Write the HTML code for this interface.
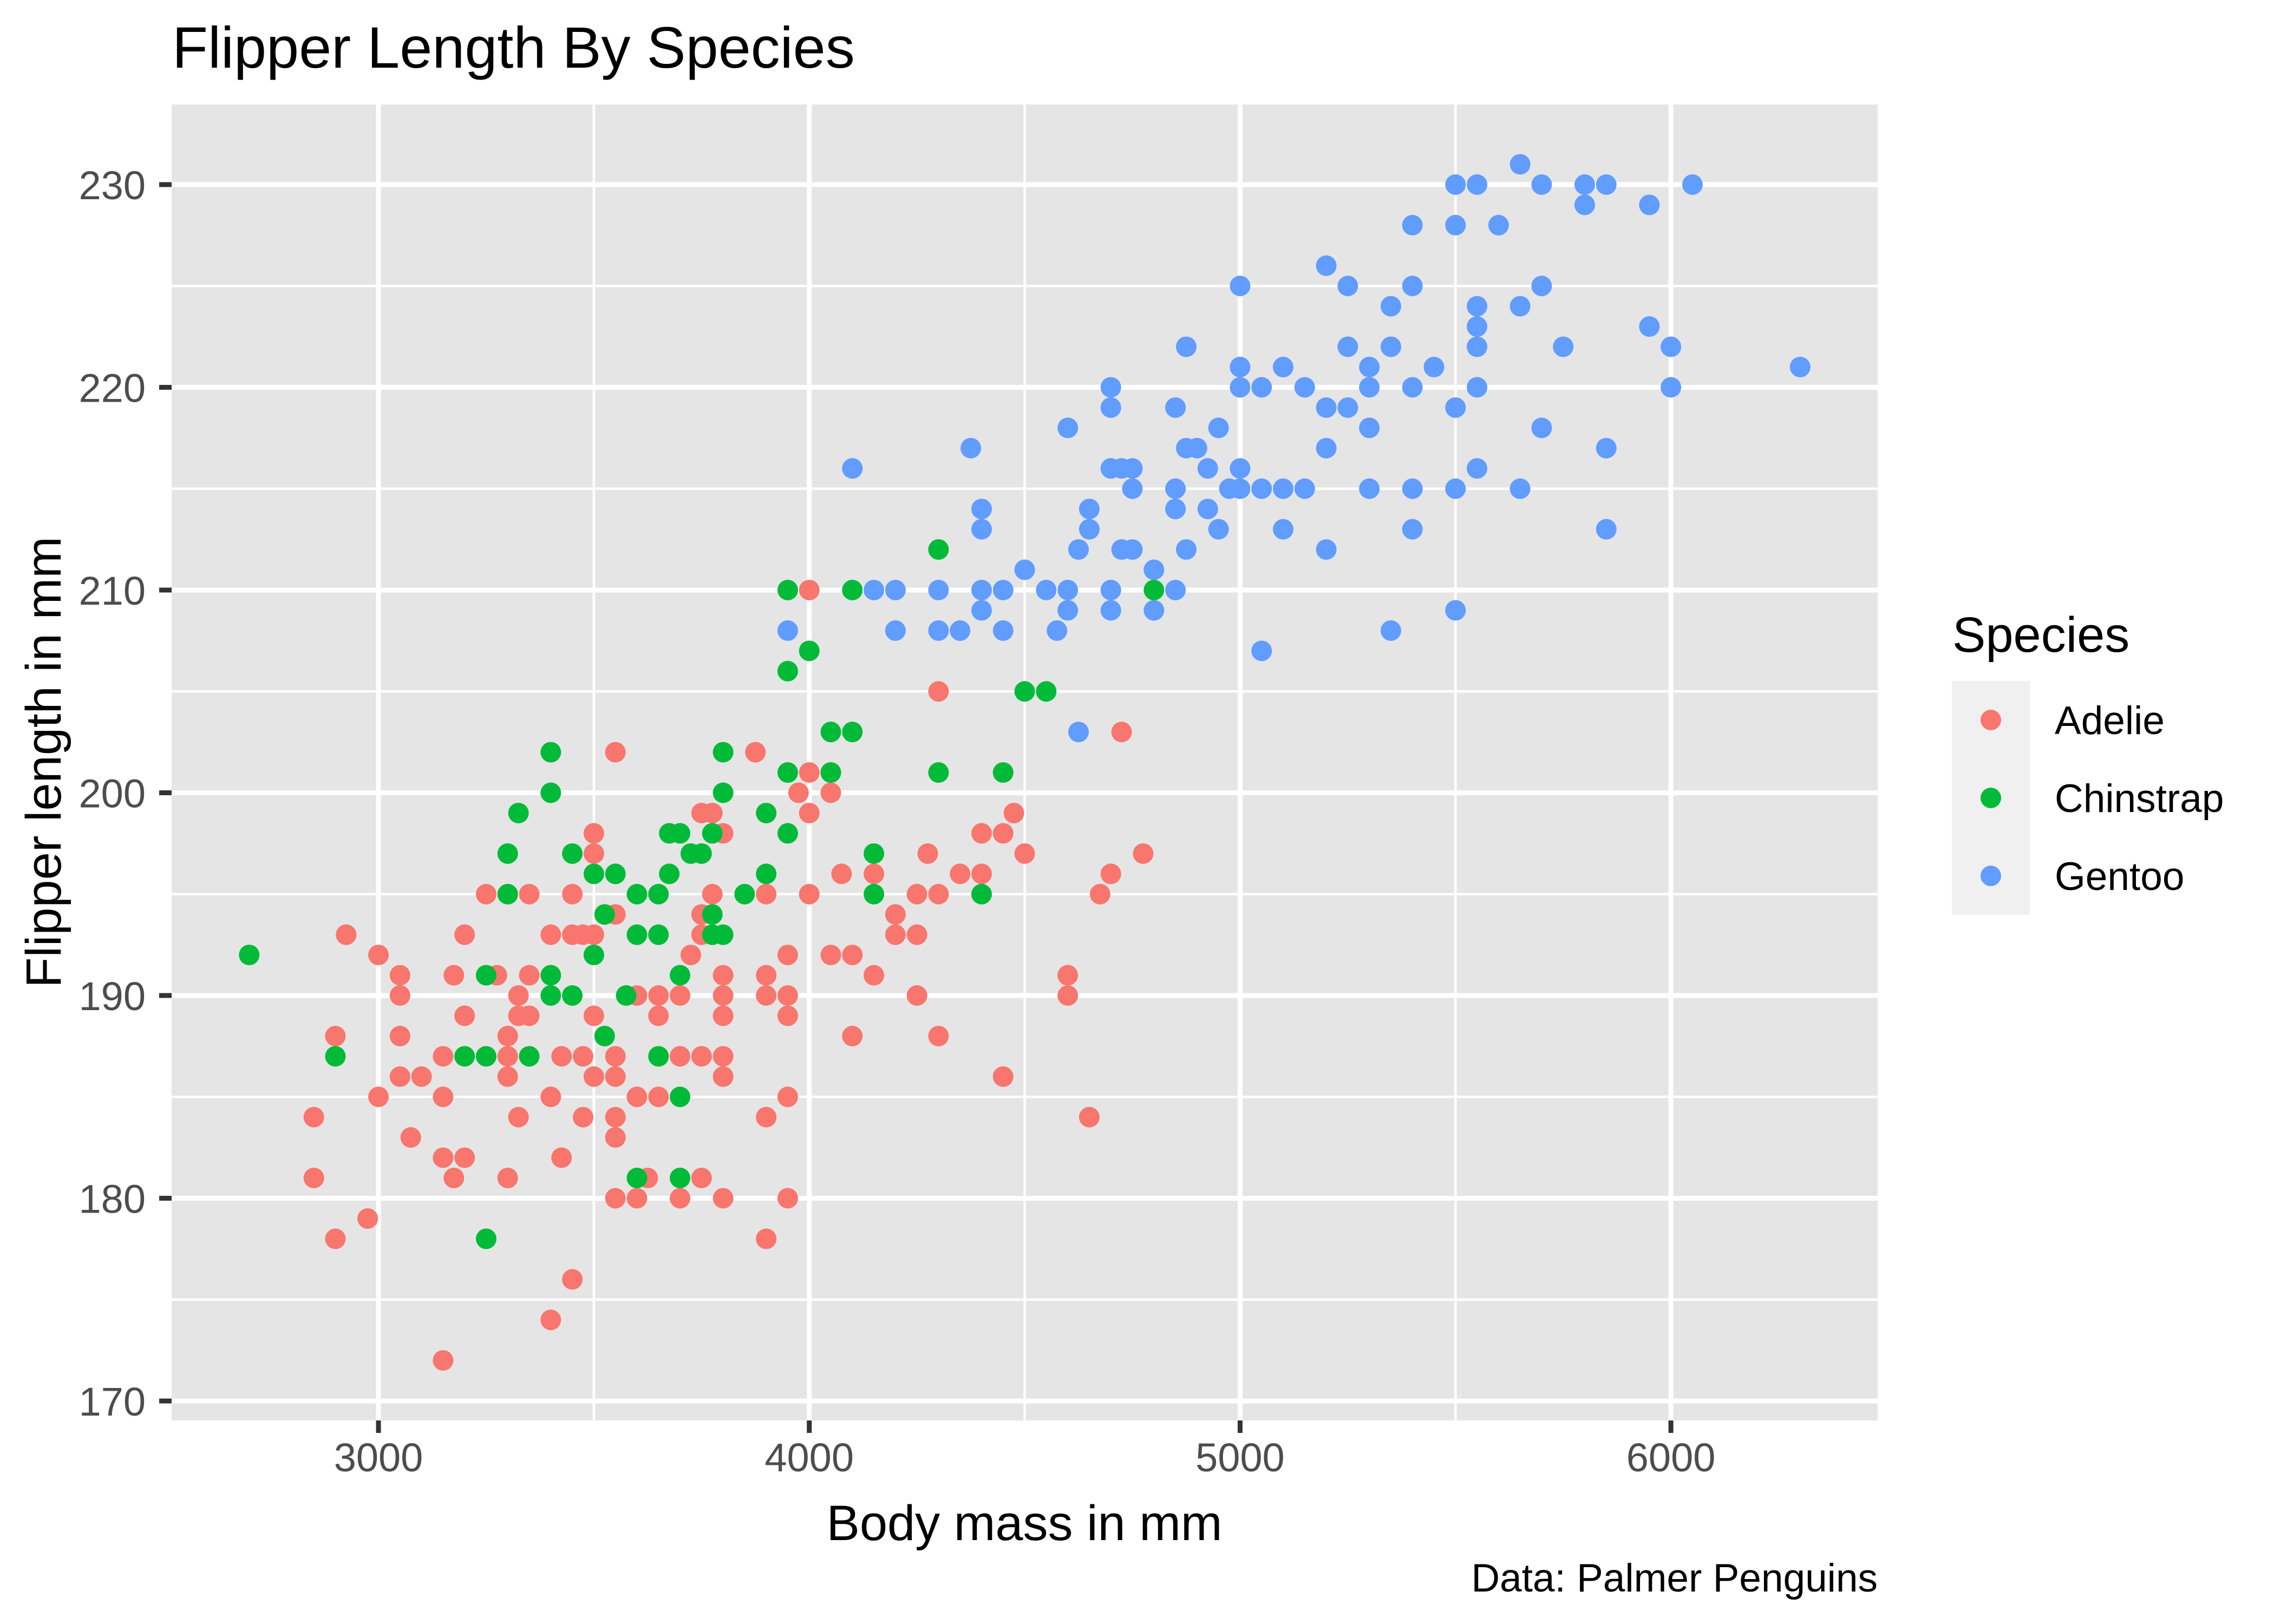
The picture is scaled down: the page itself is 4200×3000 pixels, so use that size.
<!DOCTYPE html>
<html><head><meta charset="utf-8"><style>
html,body{margin:0;padding:0;background:#fff;}
svg{display:block;font-family:"Liberation Sans",Arial,sans-serif;}
</style></head><body>
<svg id="s" width="4200" height="3000" viewBox="0 0 4200 3000" xmlns="http://www.w3.org/2000/svg">
<rect width="4200" height="3000" fill="#fff"/>
<rect x="317" y="193" width="3151" height="2431" fill="#e5e5e5"/>
<g id="grid"></g>
<g id="pts"></g>
<text x="318" y="125" font-size="108" fill="#000">Flipper Length By Species</text>
<g id="ticks" font-size="74" fill="#4d4d4d"></g>
<text x="1892" y="2845" font-size="92" text-anchor="middle" fill="#000">Body mass in mm</text>
<text transform="translate(112,1408) rotate(-90)" font-size="92" text-anchor="middle" fill="#000">Flipper length in mm</text>
<text x="3468" y="2940" font-size="73" text-anchor="end" fill="#000">Data: Palmer Penguins</text>
<text x="3606" y="1204" font-size="92" fill="#000">Species</text>
<rect x="3605" y="1258" width="144" height="432" fill="#f0f0f0"/>
<circle cx="3677" cy="1330" r="19" fill="#F8766D"/>
<circle cx="3677" cy="1474" r="19" fill="#00BA38"/>
<circle cx="3677" cy="1618" r="19" fill="#619CFF"/>
<text x="3795" y="1356" font-size="73" fill="#000">Adelie</text>
<text x="3795" y="1500" font-size="73" fill="#000">Chinstrap</text>
<text x="3795" y="1644" font-size="73" fill="#000">Gentoo</text>
</svg>
<script>
var NS="http://www.w3.org/2000/svg";
function X(m){return 699+(m-3000)*0.7957;}
function Y(f){return 341+(230-f)*37.45;}
function el(p,t,a){var e=document.createElementNS(NS,t);for(var k in a)e.setAttribute(k,a[k]);p.appendChild(e);return e;}
var g=document.getElementById('grid'),tk=document.getElementById('ticks');
[3500,4500,5500].forEach(function(m){el(g,'line',{x1:X(m),x2:X(m),y1:193,y2:2624,stroke:'#fff','stroke-width':4.5});});
[175,185,195,205,215,225].forEach(function(f){el(g,'line',{x1:317,x2:3468,y1:Y(f),y2:Y(f),stroke:'#fff','stroke-width':4.5});});
[3000,4000,5000,6000].forEach(function(m){el(g,'line',{x1:X(m),x2:X(m),y1:193,y2:2624,stroke:'#fff','stroke-width':9});
 el(tk,'line',{x1:X(m),x2:X(m),y1:2624,y2:2647,stroke:'#333','stroke-width':9});
 var t=el(tk,'text',{x:X(m),y:2718,'text-anchor':'middle'});t.textContent=m;});
[170,180,190,200,210,220,230].forEach(function(f){el(g,'line',{x1:317,x2:3468,y1:Y(f),y2:Y(f),stroke:'#fff','stroke-width':9});
 el(tk,'line',{x1:294,x2:317,y1:Y(f),y2:Y(f),stroke:'#333','stroke-width':9});
 var t=el(tk,'text',{x:269,y:Y(f)+27,'text-anchor':'end'});t.textContent=f;});
var A=[[2850,184],[2850,181],[2900,188],[2900,178],[2925,193],[2975,179],[3000,192],[3000,185],[3050,191],[3050,190],[3050,188],[3050,186],[3075,183],[3100,186],[3150,187],[3150,185],[3150,182],[3150,172],[3175,191],[3175,181],[3200,193],[3200,189],[3200,182],[3250,195],[3275,191],[3300,195],[3300,188],[3300,187],[3300,186],[3300,181],[3325,190],[3325,189],[3325,184],[3350,195],[3350,191],[3350,189],[3400,193],[3400,185],[3400,174],[3425,187],[3425,182],[3450,195],[3450,193],[3450,176],[3475,193],[3475,187],[3475,184],[3500,198],[3500,197],[3500,193],[3500,189],[3500,186],[3550,202],[3550,194],[3550,187],[3550,186],[3550,184],[3550,183],[3550,180],[3600,190],[3600,185],[3600,180],[3625,181],[3650,190],[3650,189],[3650,185],[3700,190],[3700,187],[3700,180],[3725,192],[3750,199],[3750,194],[3750,193],[3750,187],[3750,181],[3775,199],[3775,195],[3800,198],[3800,191],[3800,190],[3800,189],[3800,187],[3800,186],[3800,180],[3875,202],[3900,195],[3900,191],[3900,190],[3900,184],[3900,178],[3950,192],[3950,190],[3950,189],[3950,185],[3950,180],[3975,200],[4000,210],[4000,201],[4000,199],[4000,195],[4050,201],[4050,200],[4050,192],[4075,196],[4100,192],[4100,188],[4150,196],[4150,191],[4200,194],[4200,193],[4250,195],[4250,193],[4250,190],[4275,197],[4300,205],[4300,195],[4300,188],[4350,196],[4400,198],[4400,196],[4450,198],[4450,186],[4475,199],[4500,197],[4600,191],[4600,190],[4650,184],[4675,195],[4700,196],[4725,203],[4775,197]];
var C=[[2700,192],[2900,187],[3250,191],[3250,187],[3250,178],[3300,197],[3300,195],[3325,199],[3350,187],[3200,187],[3400,202],[3400,200],[3400,191],[3400,190],[3450,197],[3450,190],[3500,196],[3500,192],[3525,194],[3525,188],[3550,196],[3575,190],[3600,195],[3600,193],[3600,181],[3650,195],[3650,193],[3650,187],[3675,198],[3675,196],[3700,198],[3700,191],[3700,185],[3700,181],[3725,197],[3750,197],[3775,198],[3775,194],[3775,193],[3800,202],[3800,200],[3800,193],[3850,195],[3900,199],[3900,196],[3950,210],[3950,206],[3950,201],[3950,198],[4000,207],[4050,203],[4050,201],[4100,210],[4100,203],[4150,197],[4150,195],[4300,212],[4300,201],[4400,195],[4450,201],[4500,205],[4550,205],[4800,210]];
var G=[[3950,208],[4100,216],[4150,210],[4200,210],[4200,208],[4300,210],[4300,208],[4350,208],[4375,217],[4400,214],[4400,213],[4400,210],[4400,209],[4450,210],[4450,208],[4500,211],[4550,210],[4575,208],[4600,218],[4600,210],[4600,209],[4625,212],[4625,203],[4650,214],[4650,213],[4700,220],[4700,219],[4700,216],[4700,210],[4700,209],[4725,216],[4725,212],[4750,216],[4750,215],[4750,212],[4800,211],[4800,209],[4850,219],[4850,215],[4850,214],[4850,210],[4875,222],[4875,217],[4875,212],[4900,217],[4925,216],[4925,214],[4950,218],[4950,213],[4975,215],[5000,225],[5000,221],[5000,220],[5000,216],[5000,215],[5050,220],[5050,215],[5050,207],[5100,221],[5100,215],[5100,213],[5150,220],[5150,215],[5200,226],[5200,219],[5200,217],[5200,212],[5250,225],[5250,222],[5250,219],[5300,221],[5300,220],[5300,218],[5300,215],[5350,224],[5350,222],[5350,208],[5400,228],[5400,225],[5400,220],[5400,215],[5400,213],[5450,221],[5500,230],[5500,228],[5500,219],[5500,215],[5500,209],[5550,230],[5550,224],[5550,223],[5550,222],[5550,220],[5550,216],[5600,228],[5650,231],[5650,224],[5650,215],[5700,230],[5700,225],[5700,218],[5750,222],[5800,230],[5800,229],[5850,230],[5850,217],[5850,213],[5950,229],[5950,223],[6000,222],[6000,220],[6050,230],[6300,221]];
var p=document.getElementById('pts');
[[A,'#F8766D'],[C,'#00BA38'],[G,'#619CFF']].forEach(function(s){s[0].forEach(function(d){el(p,'circle',{cx:X(d[0]),cy:Y(d[1]),r:19,fill:s[1]});});});
</script>
</body></html>
